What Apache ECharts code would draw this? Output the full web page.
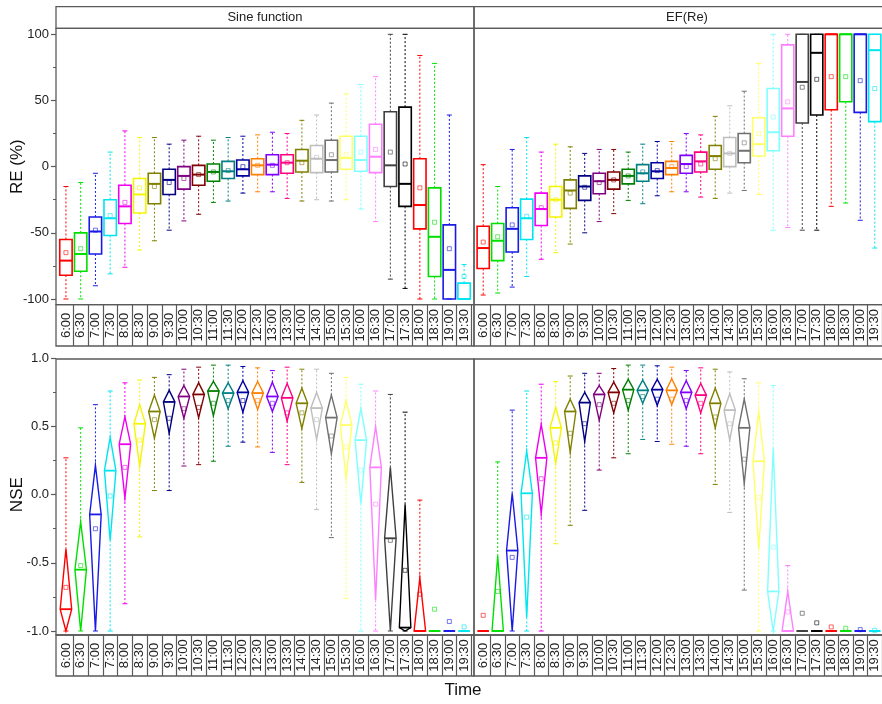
<!DOCTYPE html>
<html><head><meta charset="utf-8">
<script src="https://cdn.jsdelivr.net/npm/echarts@6/dist/echarts.min.js"></script>
<style>html,body{margin:0;padding:0;background:#fff}#c{width:882px;height:704px}</style>
</head><body><div id="c"></div>
<script>
// ---- data ----
const times = ['6:00','6:30','7:00','7:30','8:00','8:30','9:00','9:30','10:00','10:30','11:00','11:30','12:00','12:30','13:00','13:30','14:00','14:30','15:00','15:30','16:00','16:30','17:00','17:30','18:00','18:30','19:00','19:30'];
const colors = ['#FF0000','#00E000','#1A1AE6','#00E5F0','#F000F0','#F5F500','#808000','#000080','#800080','#800000','#008000','#008080','#0000A0','#FF8000','#8000FF','#FF0080','#808000','#BEBEBE','#707070','#FFFF66','#80FFFF','#FF80FF','#404040','#000000','#FF0000','#00E000','#1A1AE6','#00E5F0'];
const panelTitles = ['Sine function','EF(Re)'];
// each row: [lower whisker, Q1, median, Q3, upper whisker, mean]
const reSine = [
 [-100,-82,-71,-55,-15,-65],[-100,-79,-66,-50,-12,-62],[-90,-66,-49,-38,-5,-48],[-81,-52,-39,-25,11,-37],
 [-76,-43,-30,-14,27,-27],[-63,-35,-21,-9,22,-16],[-56,-28,-13,-5,22,-15],[-48,-21,-10,-2,17,-12],
 [-41,-17,-7,0,20,-9],[-36,-14,-6,1,23,-6],[-27,-11,-4,2,20,-4],[-26,-9,-3.5,4,22,-3],
 [-20,-7,-2,5,23,0],[-19,-6,1,6,24,1],[-19,-6,1.5,9,26,1],[-24,-5,3,9,25,3],
 [-26,-4,4.5,13,35,3],[-25,-4.5,6,16,39,7],[-26,-4,5,20,48,9],[-25,-2,6.5,23,55,9],
 [-32,-3.5,5,23,62,11],[-41.5,-4.5,7.5,32,68,13],[-85,-15,1,41.5,100,11],[-92,-30,-13,45,100,2],
 [-100,-47,-29,6,84,-16],[-100,-83,-53,-16,78,-42],[-100,-100,-78,-44,39,-62],[-100,-100,-100,-88,-74,-83]
];
const reEF = [
 [-97,-77,-61.5,-45,1.5,-57],[-95.5,-71,-56,-43,-15,-53],[-91,-64.5,-47,-31,13,-44],[-83,-55,-39,-24.5,22,-37.5],
 [-70,-44.5,-32,-20,11,-31],[-65,-38,-25,-15,17,-25],[-58.5,-31.5,-18,-10,15,-20],[-50,-25.5,-15,-7,10,-15.6],
 [-41.5,-20.5,-11,-5,13,-12],[-35.5,-17,-10,-4,13,-10],[-25.5,-13,-7,-2,11,-7],[-28,-11,-5,1.5,17,-4],
 [-22,-9,-3.5,3,19,-3],[-19,-6,-1,4,19,0],[-19,-5,2,8.5,25,0],[-23,-4,4,11,24,2],
 [-24,-2,8,16,38,6],[-20,0,10,22,46,10],[-18,3,12,25,57,18],[-21,8,17,37,78,25],
 [-48,12,26,59,100,37.5],[-46,23,44,92,100,49],[-48,33,64,100,100,60],[-48,39,86,100,100,66],
 [-30,43,100,100,100,68],[-27.5,49,100,100,100,68],[-40.5,41,100,100,100,65],[-61.5,34,88,100,100,59]
];
const nseSine = [
 [-1,-1,-0.84,-0.40,0.27,-0.68],[-1,-1,-0.55,-0.20,0.49,-0.52],[-1,-1,-0.145,0.215,0.66,-0.25],[-1,-0.335,0.176,0.42,0.76,-0.01],
 [-0.80,-0.025,0.37,0.57,0.82,0.20],[-0.31,0.21,0.52,0.66,0.84,0.40],[0.03,0.415,0.61,0.73,0.86,0.55],[0.03,0.45,0.68,0.765,0.88,0.56],
 [0.21,0.56,0.72,0.80,0.92,0.63],[0.22,0.565,0.735,0.82,0.935,0.64],[0.245,0.58,0.76,0.83,0.95,0.67],[0.355,0.63,0.745,0.82,0.95,0.69],
 [0.385,0.605,0.75,0.835,0.94,0.69],[0.35,0.625,0.745,0.83,0.93,0.69],[0.31,0.61,0.72,0.825,0.91,0.67],[0.22,0.54,0.71,0.815,0.935,0.60],
 [0.09,0.485,0.67,0.78,0.92,0.60],[-0.11,0.405,0.635,0.75,0.92,0.55],[-0.315,0.30,0.565,0.73,0.89,0.43],[-0.76,0.12,0.51,0.69,0.86,0.35],
 [-1,-0.066,0.40,0.63,0.81,0.18],[-1,-0.775,0.20,0.50,0.76,-0.07],[-1,-1,-0.32,0.20,0.735,-0.335],[-1,-1,-0.975,-0.07,0.605,-0.555],
 [-1,-1,-1,-0.61,-0.04,-0.73],[-1,-1,-1,-1,-1,-0.84],[-1,-1,-1,-1,-1,-0.93],[-1,-1,-1,-1,-1,-0.97]
];
const nseEF = [
 [-1,-1,-1,-1,-1,-0.885],[-1,-1,-1,-0.45,0.24,-0.71],[-1,-1,-0.41,0.01,0.62,-0.46],[-1,-0.90,0.01,0.32,0.76,-0.165],
 [-1,-0.14,0.27,0.515,0.81,0.117],[-0.36,0.23,0.49,0.64,0.83,0.38],[-0.225,0.31,0.61,0.70,0.87,0.45],[-0.115,0.39,0.675,0.75,0.89,0.52],
 [0.18,0.545,0.735,0.80,0.89,0.66],[0.27,0.60,0.75,0.825,0.925,0.67],[0.30,0.62,0.77,0.845,0.95,0.69],[0.405,0.67,0.765,0.84,0.95,0.72],
 [0.39,0.655,0.77,0.845,0.945,0.70],[0.37,0.66,0.765,0.85,0.935,0.70],[0.355,0.63,0.75,0.835,0.91,0.69],[0.30,0.60,0.73,0.815,0.93,0.67],
 [0.075,0.49,0.67,0.78,0.92,0.57],[-0.13,0.40,0.62,0.74,0.90,0.52],[-0.70,0.08,0.49,0.70,0.85,0.26],[-1,-0.40,0.245,0.61,0.82,-0.02],
 [-1,-1,-0.71,0.34,0.80,-0.385],[-1,-1,-1,-0.71,-0.52,-0.86],[-1,-1,-1,-1,-1,-0.87],[-1,-1,-1,-1,-1,-0.94],
 [-1,-1,-1,-1,-1,-0.97],[-1,-1,-1,-1,-1,-0.98],[-1,-1,-1,-1,-1,-0.99],[-1,-1,-1,-1,-1,-0.995]
];

// ---- layout ----
const FONT = 'Liberation Sans, Arial, sans-serif';
const FR = {x0:56, xm:474, x1:900};
const GX = [58.56, 475.95], GW = 412.9;
const TOP = {head0:6.7, plot0:28.3, plot1:304.7, lab1:346, g0:34.3, g1:299};
const BOT = {plot0:359, plot1:635, lab1:676, g0:358.3, g1:631};
const FRAME = '#5a5a5a';

function makeRender(kind){
  return function(params, api){
    const i = api.value(0);
    const c = colors[i];
    const p = k => api.coord([i, api.value(k)]);
    const lo=p(1), q1=p(2), md=p(3), q3=p(4), hi=p(5), mn=p(6);
    const cx = lo[0];
    const bw = api.size([1,0])[0] * (kind==='box' ? 0.84 : 0.78);
    const cap = 5;
    const dash = {stroke:c, lineWidth:1, lineDash:[2,2], fill:'none'};
    const ch = [
      {type:'line', shape:{x1:cx,y1:q3[1],x2:cx,y2:hi[1]}, style:dash},
      {type:'line', shape:{x1:cx,y1:q1[1],x2:cx,y2:lo[1]}, style:dash},
      {type:'line', shape:{x1:cx-cap/2,y1:hi[1],x2:cx+cap/2,y2:hi[1]}, style:{stroke:c,lineWidth:1}},
      {type:'line', shape:{x1:cx-cap/2,y1:lo[1],x2:cx+cap/2,y2:lo[1]}, style:{stroke:c,lineWidth:1}}
    ];
    if(kind==='box'){
      ch.push({type:'rect', shape:{x:cx-bw/2,y:q3[1],width:bw,height:q1[1]-q3[1]}, style:{fill:'none',stroke:c,lineWidth:1.6}});
      ch.push({type:'line', shape:{x1:cx-bw/2,y1:md[1],x2:cx+bw/2,y2:md[1]}, style:{stroke:c,lineWidth:2}});
    } else {
      ch.push({type:'polygon', shape:{points:[[cx,q3[1]],[cx+bw/2,md[1]],[cx,q1[1]],[cx-bw/2,md[1]]]}, style:{fill:'none',stroke:c,lineWidth:1.4}});
      ch.push({type:'line', shape:{x1:cx-bw/2,y1:md[1],x2:cx+bw/2,y2:md[1]}, style:{stroke:c,lineWidth:1.8}});
    }
    ch.push({type:'rect', shape:{x:mn[0]-2,y:mn[1]-2,width:4,height:4}, style:{fill:'none',stroke:c,lineWidth:0.8,opacity:0.75}});
    return {type:'group', children:ch};
  };
}

const grids = [], xAxes = [], yAxes = [], series = [];
const panels = [
  {data:reSine, kind:'box', row:TOP, col:0, min:-100, max:100, step:50, name:'RE (%)', fmt:v=>String(v)},
  {data:reEF, kind:'box', row:TOP, col:1, min:-100, max:100, step:50},
  {data:nseSine, kind:'diamond', row:BOT, col:0, min:-1, max:1, step:0.5, name:'NSE', fmt:v=>v.toFixed(1)},
  {data:nseEF, kind:'diamond', row:BOT, col:1, min:-1, max:1, step:0.5}
];
panels.forEach((pn, k) => {
  const r = pn.row;
  const labH = r.lab1 - r.plot1;
  grids.push({left:GX[pn.col], width:GW, top:r.g0, height:r.g1-r.g0, show:false});
  xAxes.push({
    gridIndex:k, type:'category', data:times, position:'bottom', offset:r.plot1-r.g1,
    boundaryGap:true,
    axisLine:{show:false, onZero:false},
    axisTick:{show:true, length:labH, interval:(i)=>i>0 && i<times.length,
      lineStyle:{color:FRAME, width:1.2}},
    axisLabel:{interval:0, rotate:90, align:'center', verticalAlign:'middle',
      margin:labH/2, fontSize:13, color:'#222', fontFamily:FONT},
    splitLine:{show:false}
  });
  const ya = {
    gridIndex:k, type:'value', min:pn.min, max:pn.max, interval:pn.step,
    splitLine:{show:false}
  };
  if(pn.col===0){
    Object.assign(ya, {
      offset:GX[0]-FR.x0,
      axisLine:{show:false},
      axisTick:{show:true, inside:false, length:5, lineStyle:{color:FRAME, width:1.2}},
      minorTick:{show:true, splitNumber:2, length:3, lineStyle:{color:FRAME, width:1}},
      axisLabel:{fontSize:13, color:'#222', margin:7, fontFamily:FONT, formatter:pn.fmt},
      name:pn.name, nameLocation:'middle', nameGap:30, nameMoveOverlap:false,
      nameTextStyle:{fontSize:17, color:'#111', fontFamily:FONT}
    });
  } else {
    Object.assign(ya, {axisLine:{show:false}, axisTick:{show:false}, axisLabel:{show:false}});
  }
  yAxes.push(ya);
  series.push({
    type:'custom', xAxisIndex:k, yAxisIndex:k, renderItem:makeRender(pn.kind),
    encode:{x:0, y:[1,2,3,4,5,6]}, clip:false, silent:true,
    data:pn.data.map((row,i)=>[i, ...row])
  });
});

// frames (panel boxes, header strips, label cells outline)
const rect = (x0,y0,x1,y1) => ({type:'rect', shape:{x:x0,y:y0,width:x1-x0,height:y1-y0},
  style:{fill:'none', stroke:FRAME, lineWidth:1.3}, silent:true, z:100});
const graphic = [];
[[FR.x0,FR.xm],[FR.xm,FR.x1]].forEach(([a,b], j) => {
  graphic.push(rect(a,TOP.head0,b,TOP.plot0));
  graphic.push(rect(a,TOP.plot0,b,TOP.plot1));
  graphic.push(rect(a,TOP.plot1,b,TOP.lab1));
  graphic.push(rect(a,BOT.plot0,b,BOT.plot1));
  graphic.push(rect(a,BOT.plot1,b,BOT.lab1));
  graphic.push({type:'text', x:(a+b)/2, y:(TOP.head0+TOP.plot0)/2, silent:true,
    style:{text:panelTitles[j], fontSize:13, fill:'#222', fontFamily:FONT, align:'center', verticalAlign:'middle'}});
});
graphic.push({type:'text', x:(FR.x0+FR.x1)/2-15, y:690, silent:true,
  style:{text:'Time', fontSize:17, fill:'#111', fontFamily:FONT, align:'center', verticalAlign:'middle'}});

const chart = echarts.init(document.getElementById('c'), null, {renderer:'canvas'});
chart.setOption({
  animation:false, backgroundColor:'#fff',
  grid:grids, xAxis:xAxes, yAxis:yAxes, series:series, graphic:graphic
});
</script></body></html>
